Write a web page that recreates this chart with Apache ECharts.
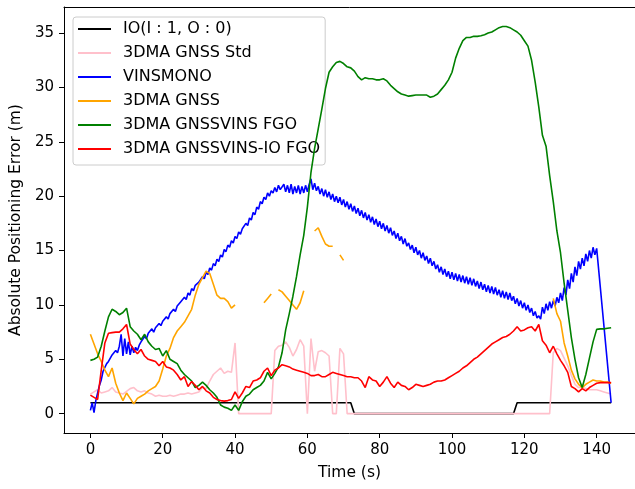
<!DOCTYPE html>
<html>
<head>
<meta charset="utf-8">
<script src="https://cdn.jsdelivr.net/npm/echarts@6/dist/echarts.min.js"></script>
<style>html,body{margin:0;padding:0;background:#fff;}#c{width:635px;height:489px;}</style>
</head>
<body>
<div id="c"></div>
<script>
// ---- data (time in seconds) ----
const xTicks = [0, 20, 40, 60, 80, 100, 120, 140];
const yTicks = [0, 5, 10, 15, 20, 25, 30, 35];
const seriesNames = ['IO(I : 1, O : 0)', '3DMA GNSS Std', 'VINSMONO', '3DMA GNSS', '3DMA GNSSVINS FGO', '3DMA GNSSVINS-IO FGO'];

// indoor/outdoor flag (break points)
const ioTimes = [0, 72, 73, 117, 118, 144];
const ioValues = [1, 1, 0, 0, 1, 1];

// 1 s sampled series, t = 0..144
const gnssStd = [
  1.8,2.0,2.2,1.9,2.0,2.1,2.4,2.0,1.9,1.8,
  2.05,2.3,2.4,2.1,2.0,2.1,1.9,1.8,1.6,1.7,
  1.6,1.6,1.7,1.6,1.7,1.8,1.8,1.9,1.8,1.9,
  2.0,2.4,2.3,3.0,3.6,3.9,4.2,3.7,3.9,3.8,
  6.5,0,0,0,0,0,0,0,0,0,
  0,5.8,6.2,6.3,6.6,6.1,5.3,5.9,6.8,6.2,
  0,6.9,3.9,5.7,5.8,5.6,5.3,0,0,6.0,
  5.5,0,0,0,0,0,0,0,0,0,
  0,0,0,0,0,0,0,0,0,0,
  0,0,0,0,0,0,0,0,0,0,
  0,0,0,0,0,0,0,0,0,0,
  0,0,0,0,0,0,0,0,0,0,
  0,0,0,0,0,0,0,0,5.6,6.0,
  5.8,5.1,4.4,3.5,2.7,2.4,2.4,2.3,2.2,2.2,
  2.2,2.1,2.0,1.9,1.8
];

const gnss = [
  7.3,6.4,5.5,4.8,4.0,3.4,4.2,2.8,1.9,1.2,
  1.9,1.4,0.9,1.4,1.6,1.8,2.1,2.3,2.5,3.0,
  4.1,5.3,6.0,7.0,7.6,8.0,8.4,9.0,9.6,10.9,
  11.9,12.5,13.1,12.9,11.9,10.9,10.6,10.6,10.3,9.7,
  10.0,null,null,null,null,null,null,null,10.2,10.6,
  11.0,null,11.4,11.2,10.8,10.4,10.0,9.6,10.2,11.3,
  null,null,16.8,17.1,16.3,15.6,15.4,15.4,null,14.6,
  14.1,null,null,null,null,null,null,null,null,null,
  null,null,null,null,null,null,null,null,null,null,
  null,null,null,null,null,null,null,null,null,null,
  null,null,null,null,null,null,null,null,null,null,
  null,null,null,null,null,null,null,null,null,null,
  null,null,null,null,null,null,null,null,10.6,9.2,
  8.5,6.5,5.3,4.0,3.2,2.7,2.4,2.7,2.9,3.1,
  3.0,3.0,2.9,2.9,2.8
];

const gnssvinsFgo = [
  4.9,5.0,5.2,6.2,7.6,8.9,9.6,9.4,9.1,9.3,
  9.7,8.0,7.6,7.3,6.8,7.3,6.6,6.2,5.9,6.0,
  5.3,5.8,5.0,4.8,4.6,4.0,3.6,3.3,3.0,2.4,
  2.6,2.9,2.6,2.2,1.9,1.5,0.8,0.6,0.5,0.3,
  0.8,0.3,1.1,1.6,1.8,2.2,2.4,2.6,3.0,3.8,
  3.2,3.7,4.3,5.6,7.7,9.2,10.8,12.6,14.6,16.4,
  19.0,22.2,24.4,26.2,28.0,29.9,31.4,31.9,32.3,32.4,
  32.2,31.9,31.8,31.5,31.0,30.7,30.9,30.8,30.8,30.7,
  30.7,30.8,30.6,30.2,29.9,29.6,29.4,29.3,29.2,29.25,
  29.3,29.3,29.3,29.3,29.1,29.2,29.4,29.8,30.2,30.7,
  31.4,32.7,33.6,34.3,34.6,34.6,34.7,34.7,34.75,34.85,
  35.0,35.1,35.3,35.5,35.6,35.6,35.5,35.3,35.1,34.8,
  34.3,33.8,32.5,30.5,28.2,25.6,24.6,21.9,19.5,16.8,
  14.8,12.0,9.5,7.0,5.0,3.3,2.4,3.6,5.1,6.6,
  7.75,7.8,7.8,7.85,7.9
];

const gnssvinsIoFgo = [
  1.7,1.5,1.3,4.0,6.5,7.4,7.45,7.5,7.5,7.8,
  8.2,6.4,5.9,5.5,5.9,5.3,5.0,4.9,4.8,4.4,
  4.8,4.3,4.2,4.0,3.6,3.1,3.4,2.5,2.95,2.6,
  2.2,2.5,2.1,1.9,1.5,1.3,1.2,1.15,1.2,1.3,
  2.0,1.4,1.9,2.5,2.4,3.0,3.1,3.3,3.9,4.2,
  3.5,4.0,4.2,4.5,4.4,4.3,4.1,4.0,3.9,3.8,
  3.7,3.5,3.5,3.6,3.4,3.4,3.6,3.8,3.7,3.6,
  3.5,3.4,3.4,3.3,3.3,3.0,2.4,3.4,3.1,3.0,
  2.5,2.9,3.4,2.8,2.4,2.9,2.6,2.5,2.2,2.4,
  2.7,2.6,2.5,2.6,2.7,2.9,3.0,3.0,3.1,3.3,
  3.5,3.7,3.9,4.2,4.4,4.7,5.0,5.2,5.5,5.8,
  6.1,6.4,6.6,6.8,7.0,7.1,7.3,7.6,8.0,7.6,
  7.7,7.9,8.0,7.6,8.2,6.7,6.3,5.6,6.2,5.5,
  4.9,4.4,3.8,2.5,2.3,2.0,2.3,2.1,2.4,2.6,
  2.8,2.85,2.85,2.85,2.85
];

// VINSMONO, 0.5 s sampled, t = 0..140, then final point
const vinsmono = [
  0.3,1.0, 0.1,1.2, 1.9,2.6, 3.1,3.9, 4.0,4.6, 4.8,5.1, 5.4,5.3, 5.8,5.6, 6.2,7.3, 5.3,6.9,
  5.5,6.6, 5.4,6.2, 5.6,6.1, 5.8,6.3, 6.6,6.5, 7.1,6.9, 7.4,7.3, 7.8,7.5, 7.9,7.8, 8.3,8.1,
  8.5,8.4, 8.9,8.7, 9.2,9.1, 9.6,9.4, 9.9,9.8, 10.3,10.2, 10.7,10.5, 11.1,10.9, 11.5,11.3, 11.8,11.7,
  12.1,12.0, 12.6,12.4, 13.0,12.8, 13.4,13.2, 13.8,13.6, 14.2,14.0, 14.6,14.4, 15.1,14.9, 15.5,15.3, 15.9,15.7,
  16.3,16.1, 16.7,16.5, 17.0,16.9, 17.5,17.3, 18.0,17.8, 18.5,18.3, 19.0,18.8, 19.5,19.3, 19.9,19.7, 20.3,20.0,
  20.5,20.3, 20.8,20.4, 21.0,20.6, 20.5,21.1, 20.4,21.0, 20.3,21.1, 20.2,20.9, 20.3,21.0, 20.2,20.9, 20.3,21.0,
  20.4,21.1, 21.6,20.6, 21.2,20.5, 20.9,20.2, 20.7,20.0, 20.6,19.9, 20.4,19.7, 20.2,19.5, 20.0,19.4, 19.9,19.2,
  19.7,19.0, 19.5,18.8, 19.3,18.6, 19.1,18.4, 18.9,18.2, 18.7,18.0, 18.5,17.8, 18.3,17.6, 18.1,17.4, 17.9,17.2,
  17.7,17.0, 17.5,16.8, 17.3,16.6, 17.1,16.4, 16.8,16.1, 16.6,15.9, 16.3,15.6, 16.1,15.4, 15.7,15.1, 15.5,14.8,
  15.3,14.6, 15.0,14.3, 14.8,14.1, 14.5,13.8, 14.3,13.6, 14.0,13.3, 13.7,13.0, 13.5,12.8, 13.3,12.6, 13.1,12.4,
  13.0,12.3, 12.9,12.2, 12.8,12.1, 12.7,12.0, 12.6,11.9, 12.5,11.8, 12.4,11.7, 12.2,11.5, 12.1,11.4, 11.9,11.2,
  11.8,11.1, 11.7,11.0, 11.6,10.9, 11.4,10.7, 11.3,10.6, 11.2,10.5, 11.1,10.4, 10.8,10.1, 10.6,9.9, 10.4,9.7,
  10.2,9.5, 10.0,9.3, 9.7,9.0, 9.4,8.8, 9.0,8.7, 9.8,9.2, 10.1,9.5, 10.3,9.7, 10.4,9.9, 10.7,10.2,
  11.1,10.4, 11.6,10.9, 12.3,11.5, 12.9,12.1, 13.5,12.7, 14.0,13.3, 14.3,13.6, 14.7,14.0, 15.0,14.3, 15.3,14.6,
  15.2
];
const vinsmonoEnd = [[144, 1.0]];

// ---- build series data ----
function perSecond(arr) { return arr.map((v, i) => [i, v]); }
function halfSecond(arr) { return arr.map((v, i) => [i * 0.5, v]); }

const colors = ['#000000', '#ffc0cb', '#0000ff', '#ffa500', '#008000', '#ff0000'];
const datasets = [
  ioTimes.map((t, i) => [t, ioValues[i]]),
  perSecond(gnssStd),
  halfSecond(vinsmono).concat(vinsmonoEnd),
  perSecond(gnss),
  perSecond(gnssvinsFgo),
  perSecond(gnssvinsIoFgo)
];

const font = 'DejaVu Sans';
const X_MIN = -7.3, X_MAX = 150.6, Y_MIN = -1.78, Y_MAX = 37.4;
const chart = echarts.init(document.getElementById('c'), null, { renderer: 'canvas' });
chart.setOption({
  animation: false,
  backgroundColor: '#ffffff',
  color: colors,
  grid: { left: 64, top: 7, width: 571, height: 426, show: false },
  legend: {
    data: seriesNames,
    orient: 'vertical',
    left: 73, top: 17,
    icon: 'rect',
    itemWidth: 33, itemHeight: 2,
    itemGap: 8,
    padding: [4, 5, 8, 5],
    backgroundColor: 'rgba(255,255,255,0.8)',
    borderColor: '#cccccc', borderWidth: 1, borderRadius: 3,
    textStyle: { fontFamily: font, fontSize: 16, color: '#000', lineHeight: 16, padding: [0, 0, 0, 7] }
  },
  xAxis: [{
    type: 'value', min: X_MIN, max: X_MAX, position: 'bottom',
    name: 'Time (s)', nameLocation: 'middle', nameGap: 32,
    nameTextStyle: { fontFamily: font, fontSize: 15.5, color: '#000' },
    splitLine: { show: false },
    axisLine: { show: true, onZero: false, lineStyle: { color: '#000', width: 1 } },
    axisTick: { show: true, length: 5, customValues: xTicks, lineStyle: { color: '#000' } },
    axisLabel: { customValues: xTicks, margin: 10, fontFamily: font, fontSize: 15, color: '#000' }
  }, {
    type: 'value', min: X_MIN, max: X_MAX, position: 'top',
    splitLine: { show: false },
    axisLine: { show: true, onZero: false, lineStyle: { color: '#000', width: 1 } },
    axisTick: { show: false }, axisLabel: { show: false }
  }],
  yAxis: {
    type: 'value', min: Y_MIN, max: Y_MAX,
    name: 'Absolute Positioning Error (m)', nameLocation: 'middle', nameGap: 38,
    nameTextStyle: { fontFamily: font, fontSize: 15.5, color: '#000' },
    splitLine: { show: false },
    axisLine: { show: true, onZero: false, lineStyle: { color: '#000', width: 1 } },
    axisTick: { show: true, length: 5, customValues: yTicks, lineStyle: { color: '#000' } },
    axisLabel: { customValues: yTicks, margin: 10, fontFamily: font, fontSize: 15, color: '#000' }
  },
  series: seriesNames.map((name, i) => ({
    name: name,
    type: 'line',
    xAxisIndex: 0,
    data: datasets[i],
    showSymbol: false,
    symbol: 'none',
    connectNulls: false,
    z: 2 + i,
    lineStyle: { width: 1.6, color: colors[i] },
    itemStyle: { color: colors[i] },
    emphasis: { disabled: true }
  }))
});
</script>
</body>
</html>
